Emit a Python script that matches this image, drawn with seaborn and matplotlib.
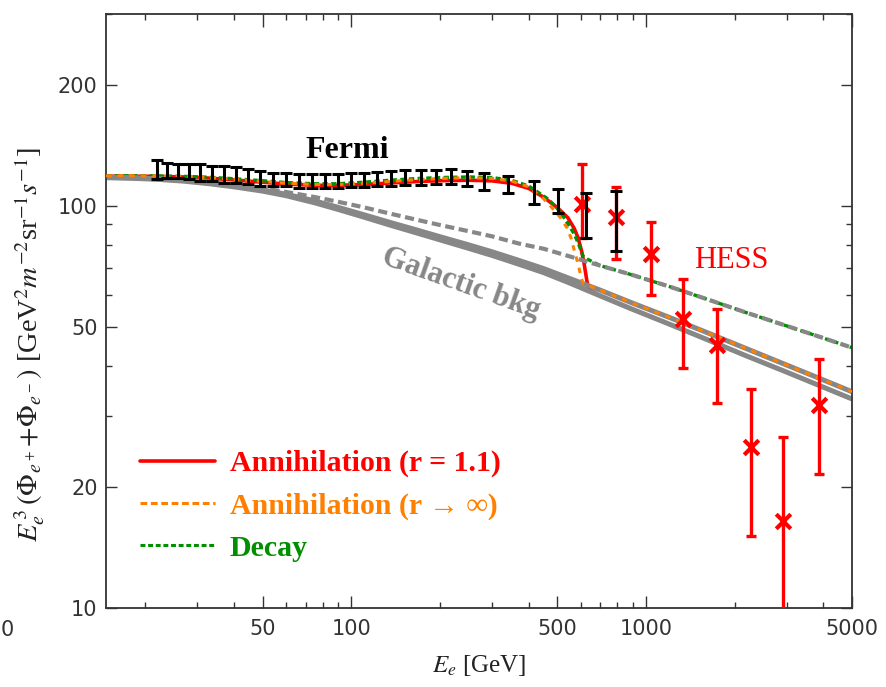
import numpy as np
import pandas as pd
import matplotlib
matplotlib.use("Agg")
import matplotlib.pyplot as plt
from matplotlib.ticker import FixedLocator, FixedFormatter, NullFormatter
from matplotlib.lines import Line2D
import seaborn as sns

# ---------------- data ----------------
# Fermi e+ + e- data
fermi_E = [21.9, 23.7, 25.8, 28.1, 30.6, 33.7, 37.0, 40.6, 44.6, 49.0, 54.3, 60.1,
           66.5, 73.7, 81.6, 90.3, 100.0, 110.7, 122.6, 136.8, 152.6, 171.7, 193.1,
           217.2, 246.1, 281.2, 339.4, 415.9, 502.0, 625.2, 790.6]
fermi_y = [123.0, 122.5, 122.0, 121.8, 121.0, 120.4, 119.7, 119.4, 118.4, 117.0, 116.3, 116.3,
           115.3, 115.3, 115.3, 115.3, 115.6, 116.0, 116.3, 116.8, 117.5, 117.5, 118.0,
           118.0, 117.0, 115.0, 113.0, 108.0, 103.0, 94.7, 91.8]
fermi_lo = [116.7, 117.3, 117.3, 116.7, 115.3, 115.3, 114.0, 114.0, 113.4, 112.1, 112.1, 112.1,
            110.8, 110.8, 110.8, 110.8, 111.5, 111.5, 112.1, 112.1, 112.7, 112.7, 113.4,
            113.4, 112.0, 109.5, 107.5, 101.1, 96.1, 83.3, 77.3]
fermi_hi = [130.0, 127.8, 127.1, 127.1, 127.0, 125.7, 125.7, 125.0, 123.6, 122.2, 120.7, 120.7,
            120.0, 120.0, 120.0, 120.0, 120.7, 120.7, 121.4, 122.2, 122.9, 122.9, 122.9,
            123.6, 122.0, 120.5, 118.7, 115.3, 110.2, 107.7, 109.0]

# HESS data
hess_E = [606, 790, 1040, 1337, 1742, 2273, 2925, 3865]
hess_y = [101.0, 94.0, 76.0, 52.4, 45.0, 25.2, 16.5, 31.9]
hess_lo = [83.3, 73.9, 60.1, 39.6, 32.3, 15.1, 5.0, 21.6]
hess_hi = [127.0, 111.5, 91.3, 65.9, 55.5, 35.1, 26.6, 41.7]

# Galactic backgrounds
bkg_E = [14.7, 18, 22, 27, 33, 40, 50, 60, 75, 90, 110, 135, 165, 200, 250, 300, 370, 450,
         550, 700, 900, 1200, 1600, 2200, 3000, 4000, 5000]
bkg1_y = [117.5, 117.1, 116.4, 115.2, 113.5, 111.5, 108.8, 106.0, 101.8, 98.0, 93.8, 89.6,
          85.8, 82.3, 78.4, 75.3, 71.6, 68.2, 64.3, 59.7, 55.3, 50.8, 46.6, 42.3, 38.6, 35.4, 33.1]
bkg2_y = [117.8, 117.4, 116.8, 115.7, 114.1, 112.2, 109.6, 106.9, 102.9, 99.2, 95.1, 91.0,
          87.3, 83.8, 80.0, 76.9, 73.2, 69.8, 66.0, 61.7, 57.3, 52.8, 48.5, 44.1, 40.2, 36.9, 34.5]
bkg3_y = [118.0, 117.6, 117.1, 116.2, 114.8, 113.0, 110.6, 108.3, 105.2, 102.4, 99.2, 95.7,
          92.5, 89.6, 86.5, 84.0, 80.6, 78.2, 74.9, 71.0, 67.3, 63.0, 58.7, 54.2, 50.3, 46.9, 44.4]

# Total spectra (DM + background)
ann1_E = [14.7, 18, 22, 27, 33, 40, 50, 60, 75, 90, 110, 135, 165, 200, 250, 300, 350, 400,
          450, 500, 543, 570, 588, 605, 616, 628, 637, 700, 900, 1200, 1600, 2200, 3000, 4000, 5000]
ann1_y = [118.5, 118.5, 118.4, 118.0, 117.2, 116.0, 114.5, 113.3, 112.5, 112.5, 113.0, 114.0,
          114.9, 115.5, 115.8, 115.4, 113.8, 110.5, 105.0, 99.0, 93.4, 88.0, 83.3, 77.0, 72.0,
          66.0, 62.0, 59.7, 55.3, 50.8, 46.6, 42.3, 38.6, 35.4, 33.1]
anninf_E = [14.7, 18, 22, 27, 33, 40, 50, 60, 75, 90, 110, 135, 165, 200, 250, 300, 350, 400,
            450, 476, 513, 540, 556, 575, 590, 602, 611, 700, 900, 1200, 1600, 2200, 3000, 4000, 5000]
anninf_y = [118.8, 118.8, 118.7, 118.3, 117.5, 116.5, 115.0, 113.8, 113.0, 113.0, 113.8, 115.0,
            116.2, 117.0, 117.5, 117.0, 115.3, 111.5, 104.0, 99.5, 93.4, 88.0, 83.3, 76.0, 71.0,
            66.5, 64.2, 61.7, 57.3, 52.8, 48.5, 44.1, 40.2, 36.9, 34.5]
dec_E = [14.7, 18, 22, 27, 33, 40, 50, 60, 75, 90, 110, 135, 165, 200, 250, 300, 350, 400,
         465, 500, 527, 550, 570, 590, 611, 630, 700, 900, 1200, 1600, 2200, 3000, 4000, 5000]
dec_y = [118.8, 118.8, 118.7, 118.4, 117.8, 116.8, 115.5, 114.3, 113.5, 113.5, 114.5, 115.8,
         116.9, 117.6, 118.0, 117.6, 115.8, 112.0, 104.0, 98.5, 93.4, 89.0, 85.2, 80.5, 75.0,
         73.8, 71.0, 67.3, 63.0, 58.7, 54.2, 50.3, 46.9, 44.4]

x_major = [50, 100, 500, 1000, 5000]
x_labels = ["50", "100", "500", "1000", "5000"]
x_minor = [20, 30, 40, 60, 70, 80, 90, 200, 300, 400, 600, 700, 800, 900, 2000, 3000, 4000]
y_major = [10, 20, 50, 100, 200]
y_labels = ["10", "20", "50", "100", "200"]
y_minor = [30, 40, 60, 70, 80, 90, 300]

RED = "#ff0000"
ORANGE = "#ff8000"
GREEN = "#008f00"
GRAY = "#878787"

# ---------------- figure ----------------
sns.set_theme(style="ticks")
plt.rcParams["font.family"] = ["DejaVu Sans"]
plt.rcParams["mathtext.fontset"] = "stix"

fig = plt.figure(figsize=(8.87, 6.87), dpi=100)
ax = fig.add_axes([106 / 887, 1 - 608 / 687, (852 - 106) / 887, (608 - 14) / 687])
ax.set_xscale("log")
ax.set_yscale("log")


def curve(E, y, color, lw, z, ls="-"):
    df = pd.DataFrame({"E": E, "flux": y})
    sns.lineplot(data=df, x="E", y="flux", ax=ax, color=color, lw=lw, sort=False,
                 estimator=None, legend=False, zorder=z)
    ln = ax.lines[-1]
    ln.set_linestyle(ls)
    ln.set_solid_capstyle("butt")
    ln.set_dash_capstyle("butt")
    ln.set_solid_joinstyle("round")
    return ln


curve(ann1_E, ann1_y, RED, 2.6, 2.0)
curve(dec_E, dec_y, GREEN, 2.4, 2.05, (0, (1.6, 1.0)))
curve(bkg_E, bkg1_y, GRAY, 3.6, 2.2)
curve(bkg_E, bkg2_y, GRAY, 3.6, 2.2)
curve(bkg_E, bkg3_y, GRAY, 3.0, 2.3, (0, (2.2, 1.1)))
curve(anninf_E, anninf_y, ORANGE, 2.2, 2.6, (0, (1.8, 2.0)))

# data points
f_err = [np.array(fermi_y) - np.array(fermi_lo), np.array(fermi_hi) - np.array(fermi_y)]
ax.errorbar(fermi_E, fermi_y, yerr=f_err, fmt="none", ecolor="black", elinewidth=2.2,
            capsize=4.5, capthick=2.2, zorder=5)
h_err = [np.array(hess_y) - np.array(hess_lo), np.array(hess_hi) - np.array(hess_y)]
ax.errorbar(hess_E, hess_y, yerr=h_err, fmt="none", ecolor=RED, elinewidth=2.4,
            capsize=3.5, capthick=2.4, zorder=4)
sns.scatterplot(x=hess_E, y=hess_y, ax=ax, marker="x", s=110, color=RED, linewidth=3,
                zorder=4.5, legend=False)

ax.set_xlim(14.7, 5000)
ax.set_ylim(10, 300)

# ticks
ax.xaxis.set_major_locator(FixedLocator(x_major))
ax.xaxis.set_major_formatter(FixedFormatter(x_labels))
ax.xaxis.set_minor_locator(FixedLocator(x_minor))
ax.xaxis.set_minor_formatter(NullFormatter())
ax.yaxis.set_major_locator(FixedLocator(y_major))
ax.yaxis.set_major_formatter(FixedFormatter(y_labels))
ax.yaxis.set_minor_locator(FixedLocator(y_minor))
ax.yaxis.set_minor_formatter(NullFormatter())
ax.tick_params(axis="both", which="both", direction="in", top=True, right=True,
               color="#333333", width=1.0, labelsize=15, labelcolor="#333333")
ax.tick_params(axis="x", which="major", length=9, pad=8)
ax.tick_params(axis="x", which="minor", length=4)
ax.tick_params(axis="y", which="major", length=8, pad=6)
ax.tick_params(axis="y", which="minor", length=4)
for sp in ax.spines.values():
    sp.set_visible(True)
    sp.set_color("#333333")
    sp.set_linewidth(1.3)

serif = "Liberation Serif"
ax.set_xlabel(r"$E_e$ [GeV]", fontsize=18, family=serif, color="#222222", labelpad=10)
ax.set_ylabel(r"$E_e^{\,3}\,(\Phi_{e^+}\!+\!\Phi_{e^-})$ [GeV$^2$$m^{-2}$sr$^{-1}$$s^{-1}$]",
              fontsize=20.5, family=serif, color="#222222")
ax.yaxis.set_label_coords(-0.079, 0.444)

# partially visible "10" label at the far left edge (only its "0" shows)
fig.text(1 / 887, 1 - 630 / 687, "0", ha="left", va="center", fontsize=15, color="#333333")

# annotations
ax.text(97, 137, "Fermi", fontsize=23, family=serif, weight="bold", color="black",
        ha="center", va="center")
ax.text(1940, 73, "HESS", fontsize=22, family=serif, color=RED, ha="center", va="center")
ax.text(236, 64, "Galactic bkg", fontsize=22, family=serif, weight="bold", color=GRAY,
        ha="center", va="center", rotation=-19.5, rotation_mode="anchor")

handles = [Line2D([], [], color=RED, lw=2.6),
           Line2D([], [], color=ORANGE, lw=2.2, ls=(0, (2.2, 1.2))),
           Line2D([], [], color=GREEN, lw=2.2, ls=(0, (1.6, 0.9)))]
labels = ["Annihilation (r = 1.1)", "Annihilation (r \u2192 \u221e)", "Decay"]
leg = ax.legend(handles, labels, loc="upper left", bbox_to_anchor=(0.0456, 0.266),
                frameon=False, borderpad=0, borderaxespad=0, handlelength=2.5,
                handletextpad=0.5, labelspacing=0.5,
                prop={"family": serif, "weight": "bold", "size": 21.5})
for t, c in zip(leg.get_texts(), [RED, ORANGE, GREEN]):
    t.set_color(c)

fig.savefig("out.png", dpi=100)
